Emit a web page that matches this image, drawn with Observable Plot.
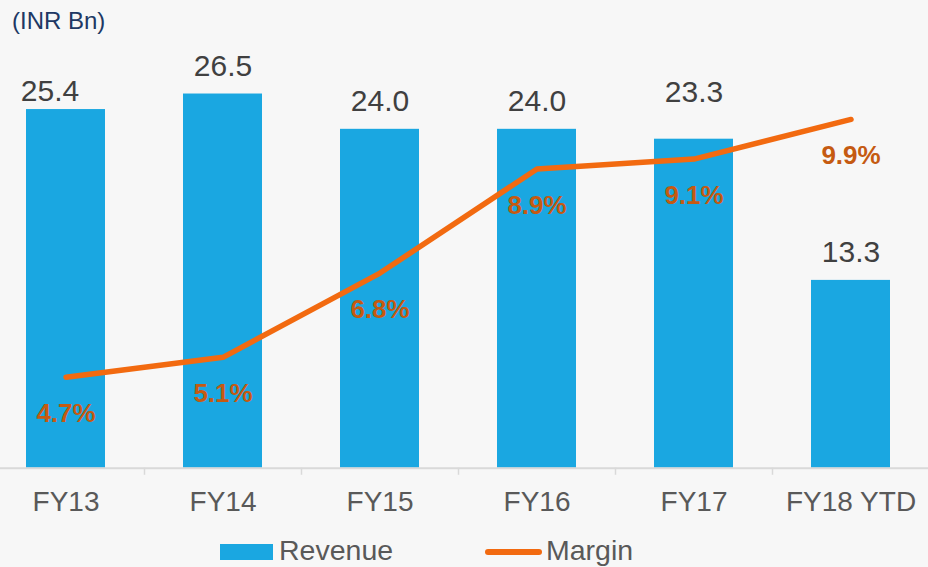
<!DOCTYPE html>
<html>
<head>
<meta charset="utf-8">
<script src="https://cdn.jsdelivr.net/npm/d3@7"></script>
<script src="https://cdn.jsdelivr.net/npm/@observablehq/plot@0.6"></script>
<style>
  body { margin: 0; background: #f7f7f7; font-family: "Liberation Sans", Arial, sans-serif; }
  #wrap { position: relative; width: 928px; height: 567px; overflow: hidden; }
  #chart { position: absolute; left: 0; top: 0; }
  .abs { position: absolute; line-height: 1; white-space: nowrap; }
  #title { left: 12px; top: 8.7px; font-size: 24px; color: #203864; }
  .legtext { font-size: 28.5px; color: #595959; top: 535.9px; }
</style>
</head>
<body>
<div id="wrap">
  <div id="chart"></div>
  <div id="title" class="abs">(INR Bn)</div>
  <div class="abs" style="left:220px;top:544px;width:53px;height:16px;background:#1AA7E1;"></div>
  <div class="abs legtext" style="left:279px;">Revenue</div>
  <div class="abs" style="left:485px;top:549.3px;width:57px;height:6px;border-radius:3px;background:#F26A10;"></div>
  <div class="abs legtext" style="left:546px;">Margin</div>
</div>
<script>
const categories = ["FY13", "FY14", "FY15", "FY16", "FY17", "FY18 YTD"];
const revenue = [25.4, 26.5, 24.0, 24.0, 23.3, 13.3];
const margin = [4.7, 5.1, 6.8, 8.9, 9.1, 9.9];

const data = categories.map((c, i) => ({cat: c, rev: revenue[i], margin: margin[i]}));
// secondary axis (margin %) mapped onto the primary y domain
const m2y = d3.scaleLinear().domain([2.863, 11.41]).range([0, 30]);

const valueFont = 30;
const chart = Plot.plot({
  width: 928,
  height: 567,
  margin: 0,
  style: {background: "transparent", fontFamily: "Liberation Sans, Arial, sans-serif", overflow: "visible"},
  x: {domain: categories, range: [-13, 929], paddingInner: 0.5, paddingOuter: 0.25, axis: null},
  y: {domain: [0, 30], range: [467.7, 44.1], axis: null},
  marks: [
    Plot.barY(data, {x: "cat", y: "rev", fill: "#1AA7E1"}),
    Plot.ruleY([0], {stroke: "#d9d9d9", strokeWidth: 2}),
    Plot.ruleX(categories.slice(0, -1), {x: d => d, dx: 78.5, y1: 0, y2: -0.5, stroke: "#d9d9d9", strokeWidth: 1.5}),
    // revenue labels
    Plot.text(data.filter(d => d.cat !== "FY13" && d.cat !== "FY17"), {
      x: "cat", y: "rev", text: d => d.rev.toFixed(1), dy: -18.5, lineAnchor: "bottom",
      fontSize: valueFont, fill: "#404040"
    }),
    Plot.text(data.filter(d => d.cat === "FY13"), {
      x: "cat", y: "rev", text: d => d.rev.toFixed(1), dx: -16, dy: -8.4, lineAnchor: "bottom",
      fontSize: valueFont, fill: "#404040"
    }),
    Plot.text(data.filter(d => d.cat === "FY17"), {
      x: "cat", y: "rev", text: d => d.rev.toFixed(1), dy: -37, lineAnchor: "bottom",
      fontSize: valueFont, fill: "#404040"
    }),
    // category labels
    Plot.text(categories, {
      x: d => d, y: 0, text: d => d, dy: 42.3, lineAnchor: "bottom",
      fontSize: 28, fill: "#595959"
    }),
    // margin line
    Plot.lineY(data, {
      x: "cat", y: d => m2y(d.margin), stroke: "#F26A10", strokeWidth: 5.5,
      strokeLinecap: "round", strokeLinejoin: "round"
    }),
    Plot.text(data, {
      x: "cat", y: d => m2y(d.margin), text: d => d.margin.toFixed(1) + "%", dy: 36.5,
      lineAnchor: "middle", fontSize: 26, fontWeight: "bold", fill: "#C55A11"
    })
  ]
});
document.getElementById("chart").appendChild(chart);
</script>
</body>
</html>
